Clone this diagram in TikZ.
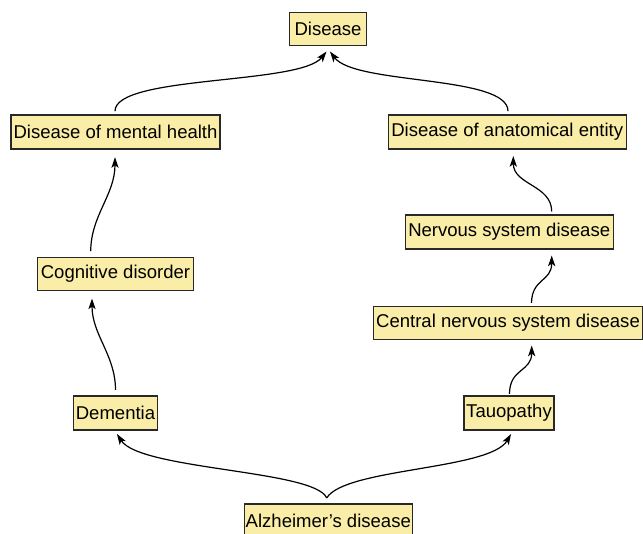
\documentclass[tikz,border=0pt]{standalone}
\usepackage{fontspec}
\setmainfont{Liberation Sans}
\usetikzlibrary{arrows.meta,calc}
\definecolor{boxfill}{RGB}{249,237,167}
\definecolor{boxline}{RGB}{40,40,40}
\begin{document}
\begin{tikzpicture}[x=0.75pt,y=-0.75pt,
  box/.style={draw=boxline,fill=boxfill,line width=0.8pt,inner sep=0pt,
    font=\fontsize{13.9pt}{16pt}\selectfont,text=black},
  bw/.style={minimum width=#1*0.75pt},
  bh/.style={minimum height=#1*0.75pt},
  edge/.style={draw=black,line width=0.9pt,-{Stealth[length=8pt,width=5.4pt,inset=2pt]}}]
\useasboundingbox (0,0) rectangle (643,534);
\node[box,bw=77.4,bh=33] (dis) at (328,28.7) {Disease};
\node[box,bw=209,bh=34] (dmh) at (115.5,132) {Disease of mental health};
\node[box,bw=237.7,bh=34] (dae) at (507.2,132) {Disease of anatomical entity};
\node[box,bw=155.6,bh=33.4] (cd) at (115.5,274) {Cognitive disorder};
\node[box,bw=208.3,bh=34] (nsd) at (509.2,232) {Nervous system disease};
\node[box,bw=268.8,bh=33.3] (cnsd) at (508,322.7) {Central nervous system disease};
\node[box,bw=84.4,bh=34] (dem) at (115.5,413) {Dementia};
\node[box,bw=90,bh=34] (tau) at (509,413) {Tauopathy};
\node[box,bw=168,bh=34] (ad) at (328.3,521) {Alzheimer’s disease};
% edges
\draw[edge] ($(dem.north)+(0,-5.5)$) .. controls (115.5,355) and (92,335) .. ($(cd.south)+(-23.5,7.3)$);
\draw[edge] ($(cd.north)+(-24.8,-5.6)$) .. controls (91,215) and (115,195) .. ($(dmh.south)+(-0.5,7.7)$);
\draw[edge] ($(dmh.north)+(-0.5,-3.3)$) .. controls (115,75) and (300,85) .. ($(dis.south)+(-1.5,5.8)$);
\draw[edge] ($(dae.north)+(0.8,-3.3)$) .. controls (508,75) and (355,85) .. ($(dis.south)+(2,5.8)$);
\draw[edge] ($(tau.north)+(0.5,-1.5)$) .. controls (509.5,368) and (531.7,372) .. ($(cnsd.south)+(23.7,5.7)$);
\draw[edge] ($(cnsd.north)+(23.5,-2.7)$) .. controls (532,278) and (551.7,282) .. ($(nsd.south)+(42.5,6)$);
\draw[edge] ($(nsd.north)+(42.5,-3)$) .. controls (551.7,185) and (513.3,185) .. ($(dae.south)+(6.1,6.5)$);
\draw[edge] ($(ad.north)+(-1.6,-5.5)$) .. controls (315,470) and (140,470) .. ($(dem.south)+(1.5,3.5)$);
\draw[edge] ($(ad.north)+(-1.6,-5.5)$) .. controls (345,468) and (490,470) .. ($(tau.south)+(2,3.5)$);
\end{tikzpicture}
\end{document}
